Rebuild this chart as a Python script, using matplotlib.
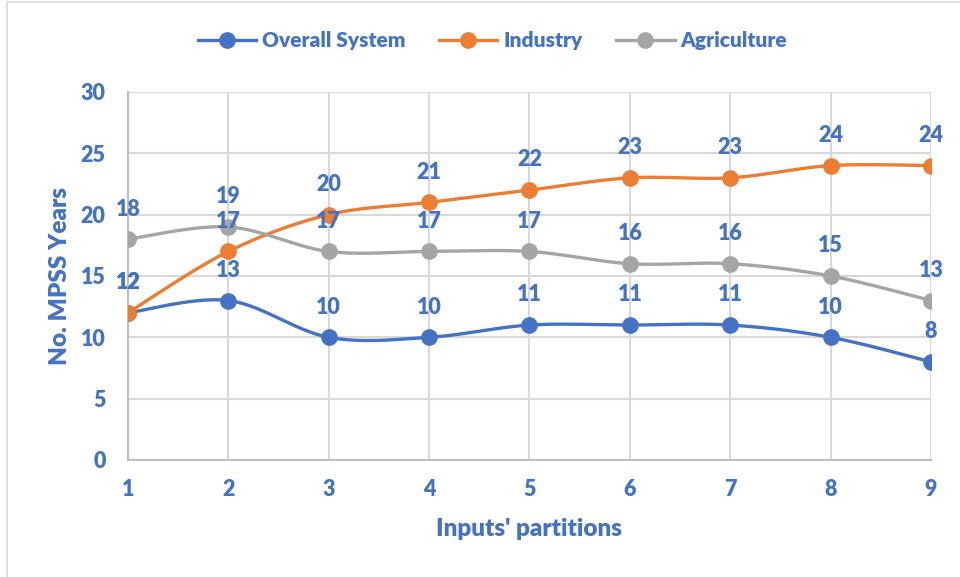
import numpy as np
import matplotlib.pyplot as plt
from matplotlib.patches import Rectangle

plt.rcParams['font.family'] = ['Lato', 'DejaVu Sans']

partitions = [1, 2, 3, 4, 5, 6, 7, 8, 9]
overall = [12, 13, 10, 10, 11, 11, 11, 10, 8]
industry = [12, 17, 20, 21, 22, 23, 23, 24, 24]
agriculture = [18, 19, 17, 17, 17, 16, 16, 15, 13]

blue = '#4472C4'
orange = '#ED7D31'
gray = '#A5A5A5'
W = 'heavy'


def smooth(x, y, n=30):
    # Catmull-Rom style bezier, like Excel's smoothed lines
    x = np.asarray(x, float)
    y = np.asarray(y, float)
    px = np.concatenate([[x[0]], x, [x[-1]]])
    py = np.concatenate([[y[0]], y, [y[-1]]])
    xs, ys = [], []
    t = np.linspace(0, 1, n)
    for i in range(1, len(px) - 2):
        p0 = np.array([px[i], py[i]])
        p3 = np.array([px[i + 1], py[i + 1]])
        c1 = p0 + (np.array([px[i + 1], py[i + 1]]) - np.array([px[i - 1], py[i - 1]])) / 6
        c2 = p3 - (np.array([px[i + 2], py[i + 2]]) - np.array([px[i], py[i]])) / 6
        b = ((1 - t) ** 3)[:, None] * p0 + (3 * (1 - t) ** 2 * t)[:, None] * c1 \
            + (3 * (1 - t) * t ** 2)[:, None] * c2 + (t ** 3)[:, None] * p3
        xs.extend(b[:, 0])
        ys.extend(b[:, 1])
    return xs, ys


fig = plt.figure(figsize=(9.6, 5.77), dpi=100)
ax = fig.add_axes([0.1333, 0.2028, 0.8365, 0.6378])

fig.patches.append(Rectangle((7 / 960, -0.1), 1.2, 1.1 - 2 / 577, transform=fig.transFigure,
                             fill=False, edgecolor='#D9D9D9', lw=1.2))

series = [('Overall System', overall, blue),
          ('Industry', industry, orange),
          ('Agriculture', agriculture, gray)]

for name, vals, col in series:
    sx, sy = smooth(partitions, vals)
    ax.plot(sx, sy, color=col, lw=2.4, zorder=3)
    ax.plot(partitions, vals, 'o', color=col, ms=11, zorder=4)
    ax.plot([], [], '-o', color=col, lw=2.4, ms=11, label=name)
    for x, v in zip(partitions, vals):
        ax.annotate(str(v), (x, v), xytext=(0, 17), textcoords='offset points',
                    ha='center', va='baseline', color=blue, fontsize=15.5,
                    fontweight=W, zorder=5)

ax.set_xlim(1, 9)
ax.set_ylim(0, 30)
ax.set_xticks(partitions)
ax.set_yticks(range(0, 31, 5))
ax.grid(True, color='#D9D9D9', lw=1.5)
ax.set_axisbelow(True)
for s in ['top', 'right']:
    ax.spines[s].set_visible(False)
for s in ['left', 'bottom']:
    ax.spines[s].set_color('#BFBFBF')
    ax.spines[s].set_linewidth(1.5)
ax.tick_params(length=0, labelcolor=blue, labelsize=15.5)
ax.tick_params(axis='y', pad=16)
ax.tick_params(axis='x', pad=14)
for lab in ax.get_xticklabels() + ax.get_yticklabels():
    lab.set_fontweight(W)

ax.set_xlabel("Inputs' partitions", color=blue, fontsize=17.5, fontweight=W, labelpad=13)
ax.set_ylabel('No. MPSS Years', color=blue, fontsize=17.5, fontweight=W, labelpad=7)

leg = fig.legend(loc='center', bbox_to_anchor=(0.513, 0.93), ncol=3, frameon=False,
                 handlelength=2.8, columnspacing=1.6, handletextpad=0.3,
                 prop={'weight': W, 'size': 15})
for t in leg.get_texts():
    t.set_color(blue)

plt.savefig('out.png', dpi=100)
